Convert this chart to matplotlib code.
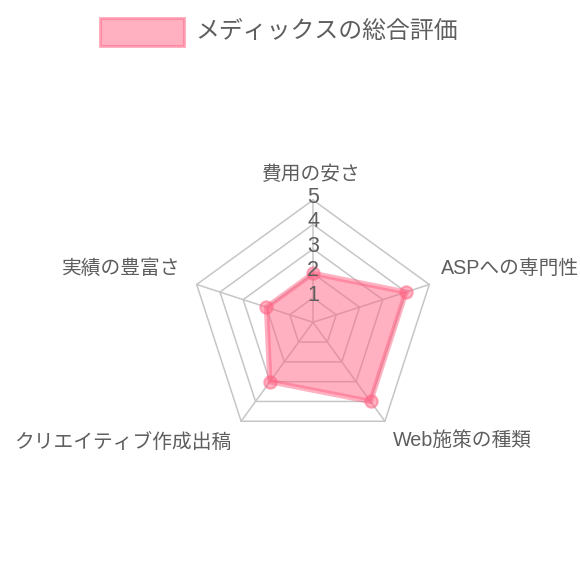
import numpy as np
import matplotlib
matplotlib.use('Agg')
import matplotlib.pyplot as plt
from matplotlib.patches import Rectangle
import matplotlib.transforms as mtransforms

# ---------------- data ----------------
categories = ['費用の安さ', 'ASPへの専門性', 'Web施策の種類', 'クリエイティブ作成出稿', '実績の豊富さ']
values = [2, 4, 4, 3, 2]
tick_values = [1, 2, 3, 4, 5]
tick_labels = ['1', '2', '3', '4', '5']
series_name = 'メディックスの総合評価'
r_max = 5

# ---------------- style ----------------
plt.rcParams['font.family'] = ['Liberation Sans', 'Noto Sans CJK JP', 'DejaVu Sans']
TEXT = '#5e5e5e'
GRID = '#c6c6c6'
FILL = (1.0, 99 / 255, 132 / 255, 0.5)
EDGE = (1.0, 99 / 255, 132 / 255, 0.5)

W = H = 580
fig = plt.figure(figsize=(W / 100, H / 100), dpi=100)
CX, CY = 313.0, 322.3          # centre of radar in pixels
UNIT = 122.3 / r_max           # pixels per value unit

ax = fig.add_axes([0, 0, 1, 1])
ax.set_xlim(-CX / UNIT, (W - CX) / UNIT)
ax.set_ylim(-(H - CY) / UNIT, CY / UNIT)
ax.axis('off')

# pixel transform (origin top-left)
pix = mtransforms.Affine2D().scale(1 / W, -1 / H).translate(0, 1) + fig.transFigure

n = len(categories)
angles = np.pi / 2 - 2 * np.pi * np.arange(n) / n
cs, sn = np.cos(angles), np.sin(angles)

# grid polygons
for t in tick_values:
    xs = np.append(t * cs, t * cs[0])
    ys = np.append(t * sn, t * sn[0])
    ax.plot(xs, ys, color=GRID, lw=1.1, zorder=1)
# angle lines
for i in range(n):
    ax.plot([0, r_max * cs[i]], [0, r_max * sn[i]], color=GRID, lw=1.1, zorder=1)

# dataset
v = np.array(values, dtype=float)
px, py = v * cs, v * sn
ax.fill(px, py, facecolor=FILL, edgecolor='none', zorder=2)
ax.plot(np.append(px, px[0]), np.append(py, py[0]), color=EDGE, lw=3.8,
        solid_joinstyle='miter', zorder=3)
ax.scatter(px, py, s=80, facecolor=FILL, edgecolor=EDGE, linewidth=1.5, zorder=4)

# tick labels
for t, lab in zip(tick_values, tick_labels):
    ax.text(0, t + 2.5 / UNIT, lab, ha='center', va='center', fontsize=15.5,
            color=TEXT, zorder=5)

# point labels (pixel positions)
label_pos = [(311, 175, 'center'), (441, 268, 'left'), (393, 440, 'left'),
             (231, 443, 'right'), (180, 268, 'right')]
for cat, (lx, ly, ha) in zip(categories, label_pos):
    ax.text(lx, ly, cat, transform=pix, ha=ha, va='center', fontsize=14.2, color=TEXT)

# legend
fig.patches.append(Rectangle((100, 18), 84, 28, transform=pix, facecolor=FILL,
                             edgecolor=EDGE, lw=2.2))
fig.text(195, 32, series_name, transform=pix, ha='left', va='center',
         fontsize=17.2, color=TEXT)

fig.savefig('out.png', dpi=100, facecolor='white')
